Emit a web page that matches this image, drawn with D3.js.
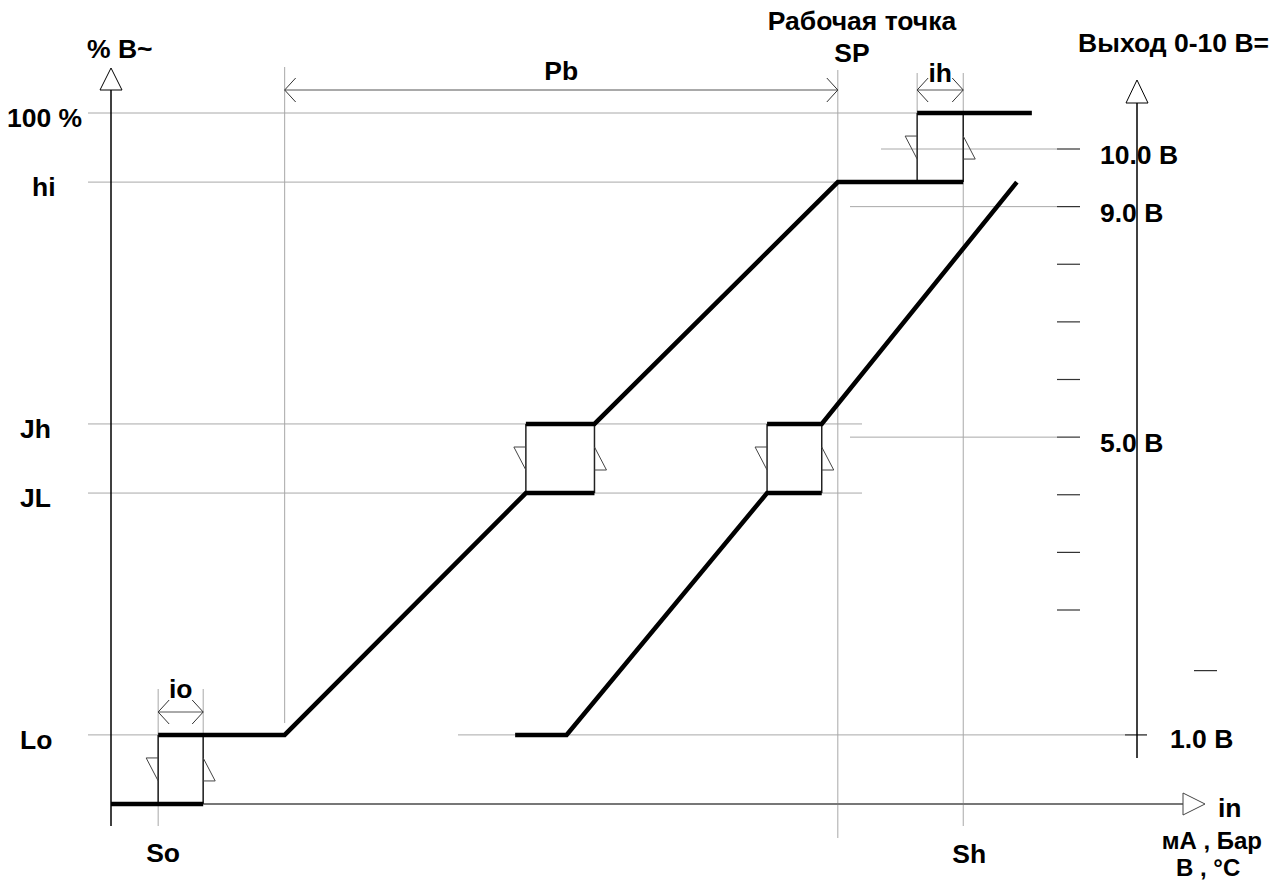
<!doctype html>
<html>
<head>
<meta charset="utf-8">
<script src="https://d3js.org/d3.v7.min.js"></script>
<style>
  body { margin: 0; background: #fff; }
  text { font-family: "Liberation Sans", Arial, sans-serif; font-weight: bold; font-size: 26.5px; fill: #000; }
  .units { font-size: 24px; }
  .grid { stroke: #a8a8a8; stroke-width: 1; fill: none; }
  .thick { stroke: #000; stroke-width: 4.5; fill: none; stroke-linejoin: miter; }
  .box { stroke: #222; stroke-width: 1.5; fill: none; }
  .tri { stroke: #444; stroke-width: 1; fill: none; }
  .axis { stroke: #000; stroke-width: 1.5; fill: none; }
</style>
</head>
<body>
<svg id="chart" width="1273" height="882"></svg>
<script>
// output levels, % of output
var levelNames  = ["Lo", "JL", "Jh", "hi", "100 %"];
var levelValues = [10, 45, 55, 90, 100];

// input positions (arbitrary units along "in")
var inputNames  = ["So", "Pb", "SP", "Sh"];
var inputValues = [4.4, 16.2, 67.8, 79.5];

// thick characteristic lines [input, output %]
var curve1 = [
    [[0, 0], [8.6, 0]],
    [[4.4, 10], [16.2, 10], [38.7, 45], [45.1, 45]],
    [[38.7, 55], [45.1, 55], [67.8, 90], [79.5, 90]],
    [[75.2, 100], [85.9, 100]]
];
var curve2 = [
    [[37.7, 10], [42.5, 10], [61.2, 45], [66.3, 45]],
    [[61.2, 55], [66.3, 55], [84.5, 90]]
];

// hysteresis boxes [x0, x1, low %, high %]
var boxes = [
    [4.4, 8.6, 0, 10],
    [38.7, 45.1, 45, 55],
    [61.2, 66.3, 45, 55],
    [75.2, 79.5, 90, 100]
];

// 0-10 V output scale
var voltTicks  = [10, 9, 8, 7, 6, 5, 4, 3, 2];
var voltLabels = ["10.0 B", "9.0 B", "5.0 B"];
var voltLabelValues = [10, 9, 5];

var svg = d3.select("#chart");

var x = d3.scaleLinear().domain([0, 100]).range([111, 1183]);
var y = d3.scaleLinear().domain([0, 100]).range([804, 113]);
var v = d3.scaleLinear().domain([2, 10]).range([610, 149]);

var line = d3.line().x(function(d) { return x(d[0]); }).y(function(d) { return y(d[1]); });

var lv = {};
levelNames.forEach(function(n, i) { lv[n] = levelValues[i]; });
var iv = {};
inputNames.forEach(function(n, i) { iv[n] = inputValues[i]; });

var axisX = x(0), rAxisX = 1137;

// horizontal grid lines for output levels
var gridEnds = { "100 %": x(75.2), "hi": x(iv.SP), "Jh": 862, "JL": 862, "Lo": x(iv.Pb) };
levelNames.forEach(function(n) {
    svg.append("line").attr("class", "grid")
       .attr("x1", 88).attr("x2", gridEnds[n])
       .attr("y1", y(lv[n])).attr("y2", y(lv[n]));
});
// Lo continues as 1.0 V reference
svg.append("line").attr("class", "grid")
   .attr("x1", 458).attr("x2", rAxisX + 10)
   .attr("y1", y(lv.Lo)).attr("y2", y(lv.Lo));
svg.append("line").attr("stroke", "#333").attr("stroke-width", 1.2)
   .attr("x1", rAxisX - 12).attr("x2", rAxisX + 10)
   .attr("y1", y(lv.Lo)).attr("y2", y(lv.Lo));

// voltage reference lines
var voltGridStart = { 10: 881, 9: 850, 5: 850 };
voltLabelValues.forEach(function(d) {
    svg.append("line").attr("class", "grid")
       .attr("x1", voltGridStart[d]).attr("x2", 1057)
       .attr("y1", v(d)).attr("y2", v(d));
});

// vertical grid lines
var vLines = [
    [4.4, 689, 826], [8.6, 689, 804], [iv.Pb, 67, 723],
    [iv.SP, 70, 838], [75.2, 73, 113], [iv.Sh, 73, 826]
];
vLines.forEach(function(d) {
    svg.append("line").attr("class", "grid")
       .attr("x1", x(d[0])).attr("x2", x(d[0]))
       .attr("y1", d[1]).attr("y2", d[2]);
});

// x axis (grey) with open arrow
svg.append("line").attr("stroke", "#777").attr("stroke-width", 2)
   .attr("x1", x(8.6)).attr("x2", x(100)).attr("y1", y(0)).attr("y2", y(0));
svg.append("path").attr("class", "tri").attr("stroke", "#000").attr("fill", "#fff")
   .attr("d", "M" + x(100) + "," + (y(0) - 11) + "L" + (x(100) + 22) + "," + y(0) + "L" + x(100) + "," + (y(0) + 11) + "Z");

// left axis
svg.append("line").attr("class", "axis")
   .attr("x1", axisX).attr("x2", axisX).attr("y1", 90).attr("y2", 826);
svg.append("path").attr("stroke", "#000").attr("stroke-width", 1).attr("fill", "#fff")
   .attr("d", "M" + (axisX - 11) + ",90L" + axisX + ",68L" + (axisX + 11) + ",90Z");

// right axis (0-10 V)
svg.append("path").attr("stroke", "#000").attr("stroke-width", 1).attr("fill", "#fff")
   .attr("d", "M" + (rAxisX - 11) + ",103L" + rAxisX + ",80L" + (rAxisX + 11) + ",103Z");

svg.selectAll(".vtick").data(voltTicks).enter().append("line")
   .attr("class", "vtick").attr("stroke", "#333").attr("stroke-width", 1.2)
   .attr("x1", 1057).attr("x2", 1080)
   .attr("y1", function(d) { return v(d); }).attr("y2", function(d) { return v(d); });
// stray 1 V tick
svg.append("line").attr("stroke", "#333").attr("stroke-width", 1.2)
   .attr("x1", 1194).attr("x2", 1217).attr("y1", v(1) + 3).attr("y2", v(1) + 3);

// dimension arrows
function dimArrow(x0, x1, yy) {
    svg.append("line").attr("stroke", "#555").attr("stroke-width", 1)
       .attr("x1", x0).attr("x2", x1).attr("y1", yy).attr("y2", yy);
    svg.append("path").attr("stroke", "#333").attr("stroke-width", 1).attr("fill", "none")
       .attr("d", "M" + (x0 + 11) + "," + (yy - 12) + "L" + x0 + "," + yy + "L" + (x0 + 11) + "," + (yy + 12));
    svg.append("path").attr("stroke", "#333").attr("stroke-width", 1).attr("fill", "none")
       .attr("d", "M" + (x1 - 11) + "," + (yy - 12) + "L" + x1 + "," + yy + "L" + (x1 - 11) + "," + (yy + 12));
}
dimArrow(x(4.4), x(8.6), 712);
dimArrow(x(iv.Pb), x(iv.SP), 90);
dimArrow(x(75.2), x(iv.Sh), 90);

// hysteresis boxes with direction flags
boxes.forEach(function(b) {
    var xl = x(b[0]), xr = x(b[1]), yt = y(b[3]), yb = y(b[2]);
    svg.append("line").attr("class", "box").attr("x1", xl).attr("x2", xl).attr("y1", yt).attr("y2", yb);
    svg.append("line").attr("class", "box").attr("x1", xr).attr("x2", xr).attr("y1", yt).attr("y2", yb);
    var m = (yt + yb) / 2, t0 = m - 11.5, t1 = m + 11.5;
    svg.append("path").attr("class", "tri")
       .attr("d", "M" + xl + "," + t0 + "L" + (xl - 12) + "," + t0 + "L" + xl + "," + t1);
    svg.append("path").attr("class", "tri")
       .attr("d", "M" + xr + "," + t0 + "L" + (xr + 12) + "," + t1 + "L" + xr + "," + t1);
});

// thick characteristic lines
curve1.concat(curve2).forEach(function(seg) {
    svg.append("path").attr("class", "thick").attr("d", line(seg));
});

// labels
var levelLabelX = { "100 %": 7, "hi": 32, "Jh": 20, "JL": 20, "Lo": 20 };
levelNames.forEach(function(n) {
    svg.append("text").attr("x", levelLabelX[n]).attr("y", y(lv[n]) + 14).text(n);
});
svg.append("text").attr("x", 87).attr("y", 58).text("% B~");

svg.append("text").attr("x", x(4.4) - 12).attr("y", 862).text("So");
svg.append("text").attr("x", x(iv.Sh) - 11).attr("y", 863).text("Sh");
svg.append("text").attr("x", (x(4.4) + x(8.6)) / 2).attr("y", 698).attr("text-anchor", "middle").text("io");
svg.append("text").attr("x", (x(iv.Pb) + x(iv.SP)) / 2).attr("y", 80).attr("text-anchor", "middle").text("Pb");
svg.append("text").attr("x", (x(75.2) + x(iv.Sh)) / 2).attr("y", 82).attr("text-anchor", "middle").text("ih");
svg.append("text").attr("x", 862).attr("y", 30).attr("text-anchor", "middle").text("Рабочая точка");
svg.append("text").attr("x", 852).attr("y", 62).attr("text-anchor", "middle").text("SP");
svg.append("text").attr("x", 1269).attr("y", 52).attr("text-anchor", "end").text("Выход 0-10 B=");

voltLabels.forEach(function(t, i) {
    svg.append("text").attr("x", 1100).attr("y", v(voltLabelValues[i]) + 15).text(t);
});
svg.append("text").attr("x", 1170).attr("y", y(lv.Lo) + 13).text("1.0 B");
svg.append("text").attr("x", 1218).attr("y", 817).text("in");
svg.append("text").attr("class", "units").attr("x", 1262).attr("y", 849).attr("text-anchor", "end").text("мА , Бар");
svg.append("text").attr("class", "units").attr("x", 1176).attr("y", 876).text("B  , °C");

// right axis drawn over its labels
svg.append("line").attr("class", "axis")
   .attr("x1", rAxisX).attr("x2", rAxisX).attr("y1", 103).attr("y2", 758);
</script>
</body>
</html>
